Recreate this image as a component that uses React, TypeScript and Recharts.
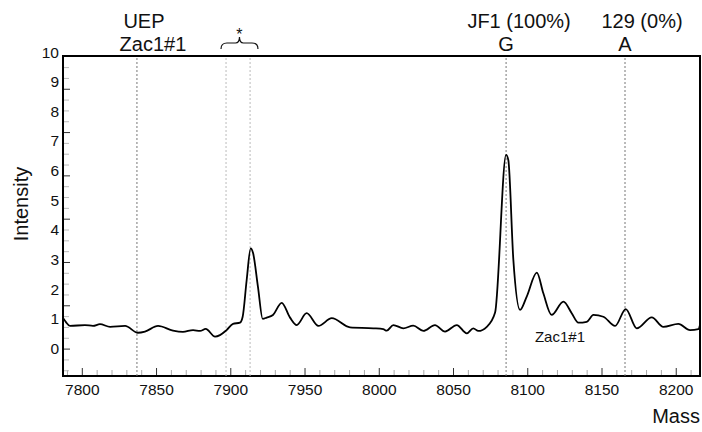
import { LineChart, Line, XAxis, YAxis, ReferenceLine, ReferenceArea, ReferenceDot } from 'recharts';

const FONT = '"Liberation Sans", Arial, Helvetica, sans-serif';

// spectrum trace
const mass = [
  7787.0, 7789.0, 7791.7, 7801.8, 7807.2, 7811.9, 7818.7, 7828.8, 7837.5, 7842.2,
  7851.0, 7861.1, 7867.8, 7874.6, 7879.3, 7883.1, 7889.4, 7892.7, 7897.2, 7901.5,
  7906.2, 7908.0, 7910.7, 7913.4, 7915.0, 7918.3, 7921.5, 7924.2, 7928.4, 7934.3,
  7939.9, 7944.4, 7951.1, 7959.0, 7968.0, 7980.3, 7996.0, 8002.7, 8005.0, 8009.5,
  8016.2, 8022.9, 8029.7, 8037.5, 8044.3, 8052.2, 8058.9, 8063.3, 8066.7, 8072.4,
  8078.0, 8085.4, 8086.9, 8090.3, 8094.8, 8099.3, 8106.1, 8110.5, 8116.1, 8124.0,
  8129.6, 8134.1, 8139.7, 8144.2, 8150.9, 8158.8, 8166.0, 8173.4, 8183.5, 8191.3,
  8201.4, 8209.3, 8214.9, 8216.0,
];
const intensity = [
  1.16, 1.02, 0.89, 0.92, 0.89, 0.95, 0.86, 0.89, 0.66, 0.70,
  0.89, 0.73, 0.69, 0.75, 0.72, 0.79, 0.53, 0.58, 0.75, 0.96,
  1.00, 1.20, 2.44, 3.51, 3.35, 2.21, 1.13, 1.17, 1.26, 1.67,
  1.17, 0.92, 1.32, 0.89, 1.15, 0.84, 0.81, 0.78, 0.73, 0.92,
  0.81, 0.90, 0.72, 0.92, 0.70, 0.92, 0.64, 0.81, 0.72, 0.86,
  1.34, 6.66, 6.49, 3.12, 1.43, 1.88, 2.69, 1.99, 1.26, 1.71,
  1.32, 1.00, 1.03, 1.26, 1.20, 0.89, 1.46, 0.81, 1.18, 0.86,
  0.96, 0.75, 0.78, 0.92,
];

const massDomain = [7787, 8216];
const intensityDomain = [-0.8, 10];
const massTicks = [
  7790, 7800, 7810, 7820, 7830, 7840, 7850, 7860, 7870, 7880, 7890, 7900, 7910, 7920, 7930,
  7940, 7950, 7960, 7970, 7980, 7990, 8000, 8010, 8020, 8030, 8040, 8050, 8060, 8070, 8080,
  8090, 8100, 8110, 8120, 8130, 8140, 8150, 8160, 8170, 8180, 8190, 8200, 8210,
];
const intensityLabels = [0, 1, 2, 3, 4, 5, 6, 7, 8, 9, 10];
// the tick marks on the left edge follow their own spacing (major every 4 steps)
const edgeTickSteps = [
  -2, -1, 0, 1, 2, 3, 4, 5, 6, 7, 8, 9, 10, 11, 12, 13, 14,
  15, 16, 17, 18, 19, 20, 21, 22, 23, 24, 25, 26,
];
const EDGE_ZERO = 0.108;
const EDGE_STEP = 0.3654;
const edgeTicks = edgeTickSteps.map((s) => EDGE_ZERO + EDGE_STEP * s);

// marker lines and their notes
const uepMass = 7836.8;
const bracketMass = [7896.8, 7913.0];
const bracketSpan = [7893.4, 7918.3];
const gMass = 8085.4;
const aMass = 8165.5;
const innerNote = { m: 8121.7, v: 0.52, text: 'Zac1#1' };

const data = mass.map((m, i) => ({ m, v: intensity[i] }));

function TopNote({ viewBox, top, bottom, topDx = 0, bottomDx = 0 }: any) {
  const x = viewBox.x;
  const y = viewBox.y;
  return (
    <g fontFamily={FONT} fontSize={20} fill="#111">
      <text x={x + topDx} y={y - 28} textAnchor="middle">{top}</text>
      <text x={x + bottomDx} y={y - 5} textAnchor="middle">{bottom}</text>
    </g>
  );
}

function Brace({ viewBox }: any) {
  const x1 = viewBox.x;
  const x2 = viewBox.x + viewBox.width;
  const mid = (x1 + x2) / 2;
  const t = viewBox.y;
  const d = `M${x1},${t - 7} Q${x1},${t - 13} ${x1 + 6},${t - 13} L${mid - 4},${t - 13} Q${mid},${t - 13} ${mid},${t - 19} Q${mid},${t - 13} ${mid + 4},${t - 13} L${x2 - 6},${t - 13} Q${x2},${t - 13} ${x2},${t - 7}`;
  return (
    <g>
      <path d={d} fill="none" stroke="#111" strokeWidth={1.2} />
      <text x={mid} y={t - 16} textAnchor="middle" fontFamily={FONT} fontSize={16} fill="#111">*</text>
    </g>
  );
}

function InnerNote({ viewBox }: any) {
  return (
    <text x={viewBox.x + viewBox.width / 2} y={viewBox.y + viewBox.height / 2} textAnchor="middle"
      dominantBaseline="central" fontFamily={FONT} fontSize={15} fill="#111">{innerNote.text}</text>
  );
}

function MassTick({ x, y, payload }: any) {
  const major = payload.value % 50 === 0;
  return (
    <g>
      <line x1={x} x2={x} y1={y - 1} y2={y - (major ? 8 : 6)} stroke={major ? '#333' : '#aaa'} strokeWidth={1} />
      {major && (
        <text x={x} y={y + 19} textAnchor="middle" fontFamily={FONT} fontSize={15.5} fill="#111">{payload.value}</text>
      )}
    </g>
  );
}

function IntensityTick({ x, y, payload }: any) {
  const v = payload.value;
  if (intensityLabels.includes(v)) {
    return (
      <text x={x - 4} y={y - 4} textAnchor="end" dominantBaseline="central" fontFamily={FONT} fontSize={15.5} fill="#111">
        {v}
      </text>
    );
  }
  const i = edgeTicks.indexOf(v);
  const major = edgeTickSteps[i] % 4 === 0;
  return <line x1={x + 1} x2={x + (major ? 7 : 6)} y1={y} y2={y} stroke={major ? '#333' : '#bbb'} strokeWidth={1} />;
}

export default function App() {
  return (
    <div style={{ position: 'absolute', left: 0, top: 0, background: '#fff' }}>
      <LineChart width={702} height={432} data={data} margin={{ top: 56, right: 2, bottom: 0, left: 0 }}>
        <XAxis xAxisId="m" dataKey="m" type="number" domain={massDomain} allowDataOverflow ticks={massTicks}
          interval={0} tickSize={0} tickMargin={0} tickLine={false} axisLine={false} height={56} tick={<MassTick />}
          label={({ viewBox }: any) => (
            <text x={viewBox.x + viewBox.width} y={viewBox.y + 47} textAnchor="end" fontFamily={FONT} fontSize={20} fill="#111">Mass</text>
          )} />
        <YAxis yAxisId="v" type="number" domain={intensityDomain} allowDataOverflow
          ticks={[...intensityLabels, ...edgeTicks]} interval={0}
          width={63} tickSize={0} tickMargin={0} tickLine={false} axisLine={false} tick={<IntensityTick />}
          label={() => (
            <text x={28} y={204} transform="rotate(-90, 28, 204)" textAnchor="middle" fontFamily={FONT} fontSize={20} fill="#111">Intensity</text>
          )} />

        <ReferenceLine xAxisId="m" yAxisId="v" x={uepMass} stroke="#777" strokeDasharray="2 2"
          label={<TopNote top="UEP" bottom="Zac1#1" topDx={7} bottomDx={16} />} />
        {bracketMass.map((m) => (
          <ReferenceLine key={m} xAxisId="m" yAxisId="v" x={m} stroke="#bbb" strokeDasharray="2 2" />
        ))}
        <ReferenceArea xAxisId="m" yAxisId="v" x1={bracketSpan[0]} x2={bracketSpan[1]} fill="none" stroke="none"
          label={<Brace />} />
        <ReferenceLine xAxisId="m" yAxisId="v" x={gMass} stroke="#777" strokeDasharray="2 2"
          label={<TopNote top="JF1 (100%)" bottom="G" topDx={13} />} />
        <ReferenceLine xAxisId="m" yAxisId="v" x={aMass} stroke="#777" strokeDasharray="2 2"
          label={<TopNote top="129 (0%)" bottom="A" topDx={17} />} />
        <ReferenceDot xAxisId="m" yAxisId="v" x={innerNote.m} y={innerNote.v} r={0} fill="none" stroke="none"
          label={<InnerNote />} />

        <Line xAxisId="m" yAxisId="v" dataKey="v" type="monotone" stroke="#000" strokeWidth={1.8} dot={false}
          isAnimationActive={false} />

        {/* plot frame */}
        <ReferenceArea xAxisId="m" yAxisId="v" x1={massDomain[0]} x2={massDomain[1]} y1={intensityDomain[0]}
          y2={intensityDomain[1]} fill="none" fillOpacity={0} stroke="#000" strokeWidth={2} ifOverflow="visible" />
      </LineChart>
    </div>
  );
}
